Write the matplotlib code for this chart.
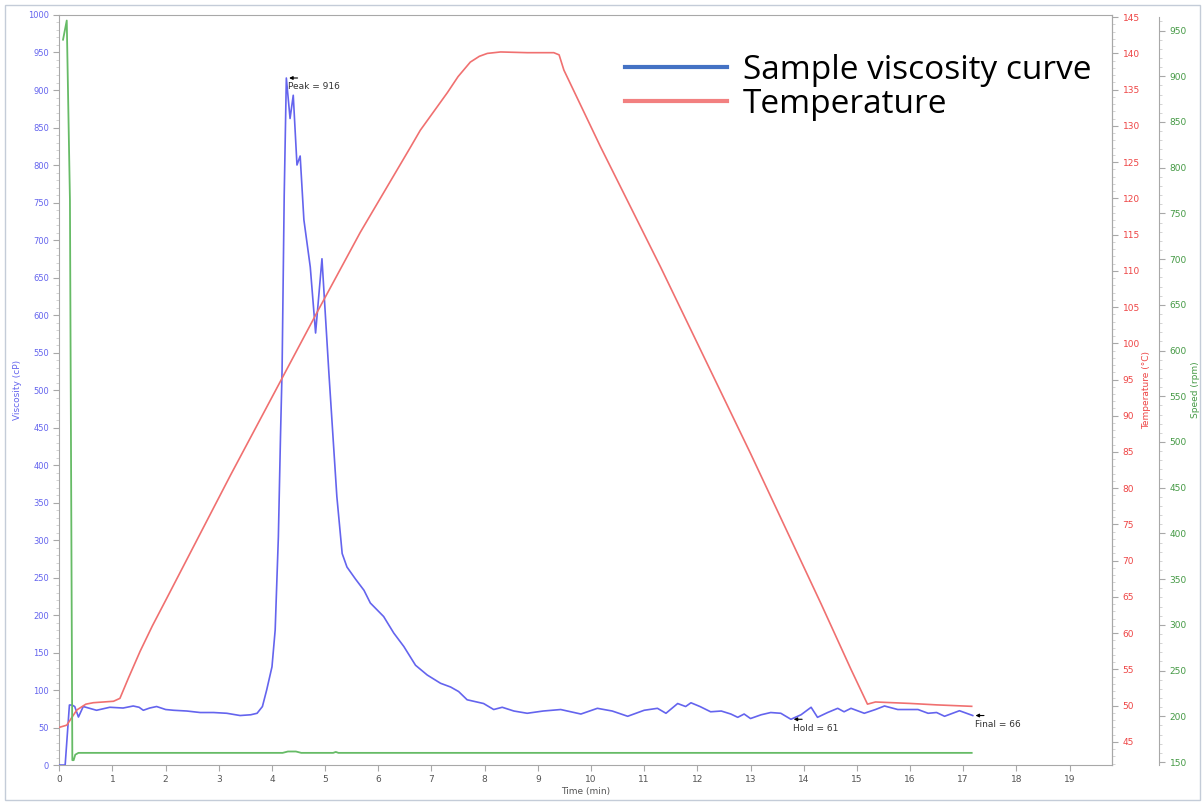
import matplotlib.pyplot as plt
from matplotlib.lines import Line2D
from matplotlib.patches import Rectangle
from matplotlib.ticker import MultipleLocator

# viscosity (cP) vs time (min)
visc_time = [0, 0.11, 0.19, 0.24, 0.29, 0.36, 0.45, 0.7, 0.95, 1.2,
             1.39, 1.5, 1.58, 1.7, 1.83, 2.0, 2.15, 2.4, 2.65, 2.9,
             3.15, 3.4, 3.6, 3.72, 3.82, 3.9, 4.0, 4.06, 4.12, 4.16,
             4.19, 4.23, 4.27, 4.34, 4.40, 4.47, 4.53, 4.60, 4.72, 4.82,
             4.94, 5.07, 5.22, 5.32, 5.41, 5.57, 5.73, 5.85, 6.10, 6.29,
             6.48, 6.70, 6.92, 7.17, 7.36, 7.51, 7.67, 7.98, 8.17, 8.33,
             8.55, 8.80, 9.1, 9.43, 9.81, 10.12, 10.4, 10.69, 11.0, 11.25,
             11.41, 11.63, 11.78, 11.88, 12.05, 12.25, 12.45, 12.63, 12.76, 12.88,
             13.0, 13.2, 13.38, 13.57, 13.76, 13.95, 14.14, 14.26, 14.45, 14.64,
             14.76, 14.89, 15.14, 15.35, 15.52, 15.77, 16.15, 16.34, 16.5, 16.65,
             16.93, 17.18]
viscosity = [0, 0, 80, 80, 78, 64, 78, 73, 77, 76,
             78.7, 77, 73, 76, 78, 74, 73, 72, 70, 70,
             69, 66, 67, 69, 78, 100, 131, 180, 304, 438,
             527, 760, 916, 862, 893, 800, 812, 727, 664, 576,
             675, 523, 358, 282, 264, 248, 233, 216, 198, 176,
             158, 133, 120, 109, 104, 98, 87, 82, 74, 77,
             72, 69, 72, 74, 68, 75.6, 72, 65, 73, 75.6,
             69, 82, 78, 83, 78, 71, 72, 68, 63.6, 68,
             62, 67, 70, 69, 61, 67, 77, 63.6, 70, 75.6,
             71, 75.6, 69, 74, 78.7, 74, 74, 69, 70, 65,
             72.4, 66]

# temperature (C)
temp_time = [0, 0.14, 0.33, 0.5, 0.64, 1.02, 1.14, 1.3, 1.52, 1.75,
             2.02, 3.22, 4.09, 4.85, 5.66, 6.6, 6.79, 7.3, 7.5, 7.73,
             7.9, 8.05, 8.3, 8.8, 9.3, 9.4, 9.49, 10.18, 11.31, 13.0,
             14.33, 14.89, 15.2, 15.35, 16.0, 16.5, 17.16]
temperature = [47.0, 47.3, 49.4, 50.2, 50.4, 50.6, 51.0, 53.8, 57.5, 61.0,
               64.8, 81.8, 93.8, 104.3, 115.3, 127.0, 129.4, 134.6, 136.8, 138.8,
               139.6, 140.0, 140.2, 140.1, 140.1, 139.8, 137.7, 127.1, 110.5, 84.8,
               64.0, 55.0, 50.2, 50.5, 50.3, 50.1, 49.9]

# paddle speed (rpm)
speed_time = [0.07, 0.14, 0.2, 0.245, 0.27, 0.3, 0.36, 4.2, 4.3, 4.45,
              4.55, 5.15, 5.2, 5.25, 17.16]
speed = [940, 961, 765, 152, 152, 158, 160, 160, 161.5, 161.5,
         160, 160, 161, 160, 160]

# markers: peak / hold / final
marks = [(4.27, 916, "Peak = 916"), (13.76, 61, "Hold = 61"), (17.18, 66, "Final = 66")]

blue = "#6464ee"
red = "#f07070"
green = "#66bb66"
grey = "#a8a8a8"

fig = plt.figure(figsize=(12.03, 8.02), dpi=100)
fig.patches.append(Rectangle((5 / 1203, 2 / 802), 1195 / 1203, 795 / 802,
                             transform=fig.transFigure, fill=False,
                             edgecolor="#c4ccd8", lw=1))
ax = fig.add_axes([0.0493, 0.0461, 0.8751, 0.9352])
ax2 = ax.twinx()
ax3 = ax.twinx()
ax3.spines["right"].set_position(("axes", 1.0447))

ax.plot(visc_time, viscosity, color=blue, lw=1.2, zorder=3)
ax2.plot(temp_time, temperature, color=red, lw=1.2)
ax3.plot(speed_time, speed, color=green, lw=1.3)

ax.set_xlim(0, 19.8)
ax.set_ylim(0, 1000)
ax2.set_ylim(41.8, 145.3)
ax3.set_ylim(146.7, 967)

ax.xaxis.set_major_locator(MultipleLocator(1))
ax.yaxis.set_major_locator(MultipleLocator(50))
ax.yaxis.set_minor_locator(MultipleLocator(10))
ax2.yaxis.set_major_locator(MultipleLocator(5))
ax2.yaxis.set_minor_locator(MultipleLocator(1))
ax3.yaxis.set_major_locator(MultipleLocator(50))
ax3.yaxis.set_minor_locator(MultipleLocator(10))

for a in (ax, ax2, ax3):
    for s in a.spines.values():
        s.set_color(grey)
for a in (ax2, ax3):
    for s in ("left", "top", "bottom"):
        a.spines[s].set_visible(False)
ax3.spines["right"].set_bounds(146.7, 965)

ax.tick_params(axis="x", colors=grey, labelcolor="#555555", labelsize=6.5, length=4)
ax.tick_params(axis="y", which="major", colors=grey, labelcolor=blue, labelsize=6, length=4)
ax.tick_params(axis="y", which="minor", colors="#cccccc", length=2)
ax2.tick_params(axis="y", which="major", colors=grey, labelcolor="#ee4444", labelsize=6.5, length=4)
ax2.tick_params(axis="y", which="minor", colors="#cccccc", length=2)
ax3.tick_params(axis="y", which="major", colors=grey, labelcolor="#449944", labelsize=6.5, length=4)
ax3.tick_params(axis="y", which="minor", colors="#cccccc", length=2)

ax.set_xlabel("Time (min)", fontsize=6.5, color="#555555", labelpad=2)
ax.set_ylabel("Viscosity (cP)", fontsize=6.5, color=blue, labelpad=4)
ax2.set_ylabel("Temperature (°C)", fontsize=6.5, color="#ee4444", labelpad=2)
ax3.set_ylabel("Speed (rpm)", fontsize=6.5, color="#449944", labelpad=3)

for t, v, txt in marks:
    ax.annotate("", xy=(t, v), xytext=(14, 0), textcoords="offset pixels",
                arrowprops=dict(arrowstyle="-|>", color="black", lw=0.8, mutation_scale=5))
    ax.annotate(txt, xy=(t, v), xytext=(2, -9), textcoords="offset pixels",
                fontsize=6.5, color="#333333", va="center", ha="left")

handles = [Line2D([], [], color="#4472c4", lw=3),
           Line2D([], [], color="#f28080", lw=3)]
fig.legend(handles, ["Sample viscosity curve", "Temperature"],
           loc="upper left", bbox_to_anchor=(625 / 1203, 1 - 54 / 802),
           frameon=False, prop={"family": "Open Sans", "size": 24},
           handlelength=3.05, handletextpad=0.48, labelspacing=0.02,
           borderpad=0, borderaxespad=0)

fig.savefig("out.png", dpi=100)
